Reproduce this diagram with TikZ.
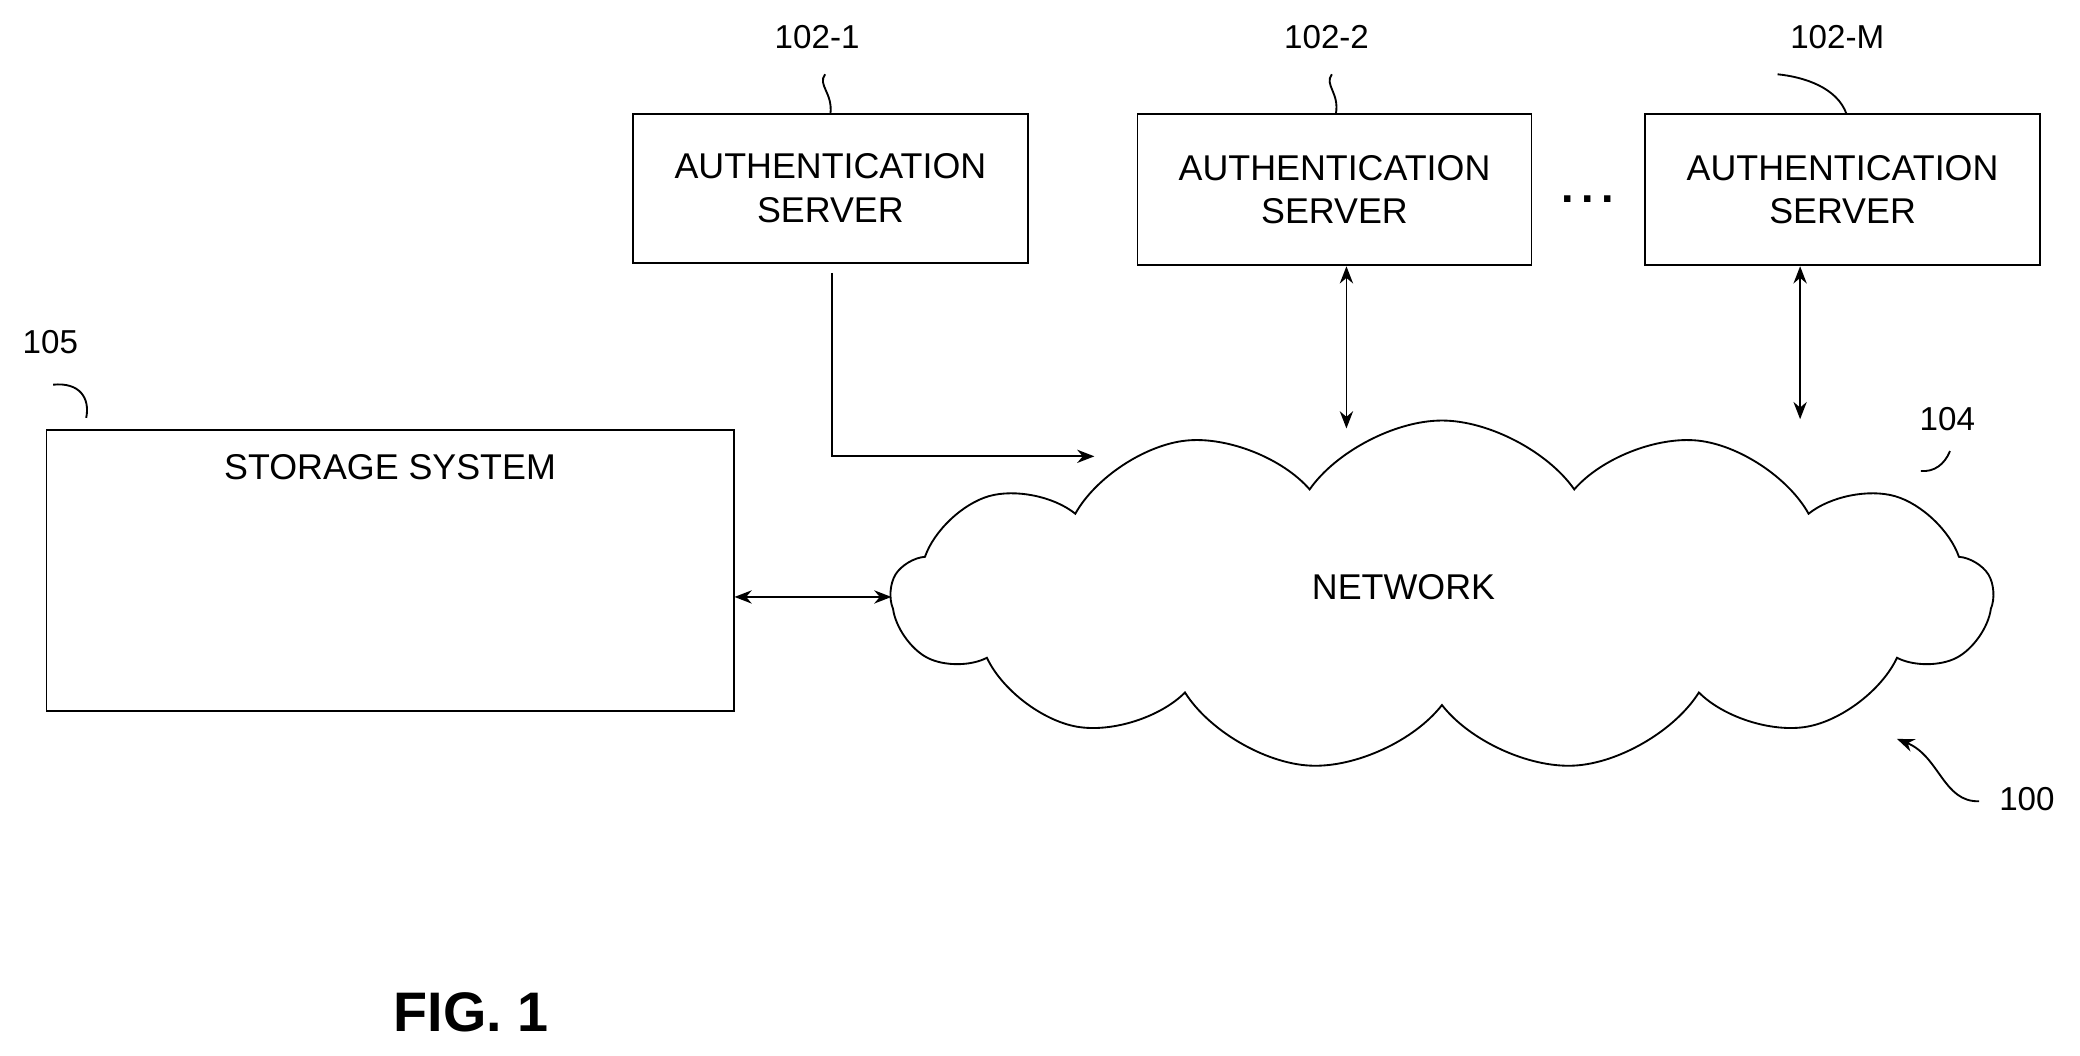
\documentclass[tikz,border=0pt]{standalone}
\usepackage{fontspec}
\setmainfont{Liberation Sans}
\usetikzlibrary{shapes.symbols,arrows.meta}
\begin{document}
\begin{tikzpicture}[x=1pt,y=-1pt,line width=1.4pt,
  box/.style={draw,align=center,font=\fontsize{27}{33}\selectfont},
  lbl/.style={font=\fontsize{25}{30}\selectfont},
  arr/.style={-{Stealth[length=13pt,width=10pt]}},
  darr/.style={{Stealth[length=13pt,width=10pt]}-{Stealth[length=13pt,width=10pt]}}]
\useasboundingbox (0,0) rectangle (1568,796);
\node[box,minimum width=298pt,minimum height=112pt] (a1) at (626,142) {AUTHENTICATION\\SERVER};
\node[box,minimum width=297pt,minimum height=114pt] (a2) at (1006,143) {AUTHENTICATION\\SERVER};
\node[box,minimum width=298pt,minimum height=114pt] (am) at (1389,143) {AUTHENTICATION\\SERVER};
\node[font=\bfseries\fontsize{34}{34}\selectfont] (dots) at (1197,150) {.\,.\,.};
\node[lbl] (l1) at (616,28) {102-1};
\node[lbl] (l2) at (1000,28) {102-2};
\node[lbl] (lm) at (1385,28) {102-M};
\draw (622,56) .. controls (616,64) and (628,70) .. (626,86);
\draw (1004,56) .. controls (998,64) and (1010,70) .. (1007,86);
\draw (1340,56) .. controls (1360,58) and (1385,66) .. (1392,86);
\node[box,minimum width=518pt,minimum height=212pt] (st) at (294,430) {};
\node[font=\fontsize{27}{33}\selectfont] (stt) at (294,352) {STORAGE SYSTEM};
\node[lbl] (l105) at (38,258) {105};
\draw (40,290) .. controls (60,288) and (68,300) .. (65,315);
\node[cloud,draw,cloud puffs=13,cloud puff arc=110,aspect=3,minimum width=830pt,minimum height=264pt] (net) at (1087,449) {};
\node[font=\fontsize{27}{33}\selectfont] (nt) at (1058,443) {NETWORK};
\node[lbl] (l104) at (1468,316) {104};
\draw (1448,355) .. controls (1458,356) and (1466,350) .. (1470,340);
\node[lbl] (l100) at (1528,602) {100};
\draw[arr] (1492,604) .. controls (1465,605) and (1462,570) .. (1430,557);
\coordinate (c1) at (825,344);
\coordinate (c2) at (1015,323);
\coordinate (cm) at (1357,316);
\coordinate (cs) at (672,450);
\draw[arr] (a1.south -| 627,0) ++(0,7) |- (c1);
\draw[darr] (a2.south -| c2) -- (c2);
\draw[darr] (am.south -| cm) -- (cm);
\draw[darr] (st.east |- cs) -- (cs);
\node[font=\bfseries\fontsize{42}{42}\selectfont] (fig) at (355,763) {FIG. 1};
\end{tikzpicture}
\end{document}
